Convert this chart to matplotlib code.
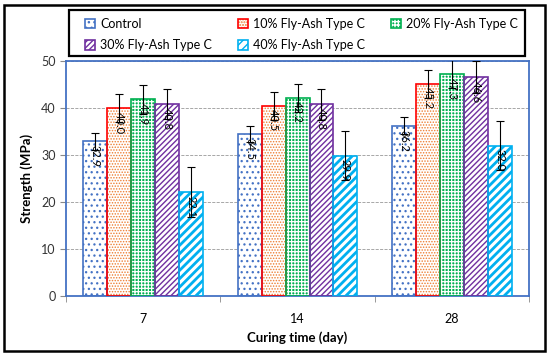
import numpy as np
import matplotlib
matplotlib.use('Agg')
import matplotlib.pyplot as plt
from matplotlib.patches import Rectangle

plt.rcParams['font.family'] = ['Lato', 'DejaVu Sans']

days = ['7', '14', '28']
series = ['Control', '10% Fly-Ash Type C', '20% Fly-Ash Type C',
          '30% Fly-Ash Type C', '40% Fly-Ash Type C']
control = [32.9, 34.5, 36.2]
fa10 = [40.0, 40.5, 45.2]
fa20 = [41.9, 42.2, 47.3]
fa30 = [40.8, 40.8, 46.6]
fa40 = [22.1, 29.9, 32.0]
err_control = [1.8, 1.7, 1.8]
err_fa10 = [3.0, 3.0, 3.0]
err_fa20 = [3.1, 3.0, 3.0]
err_fa30 = [3.2, 3.3, 3.4]
err_fa40 = [5.3, 5.3, 5.2]
labels = [['32.9', '34.5', '36.2'], ['40.0', '40.5', '45.2'],
          ['41.9', '42.2', '47.3'], ['40.8', '40.8', '46.6'],
          ['22.1', '29.9', '32.0']]

values = [control, fa10, fa20, fa30, fa40]
errors = [err_control, err_fa10, err_fa20, err_fa30, err_fa40]

# (face, hatch colour, hatch, outline, hatch lw)
styles = [
    ('white', '#4472C4', '...', '#4472C4', 0.9),
    ('white', '#ED7D31', '......', '#FF0000', 0.7),
    ('#00B050', 'white', '+++++', '#00B050', 0.9),
    ('white', '#7030A0', '//////', '#7030A0', 1.0),
    ('white', '#00B0F0', '////', '#00B0F0', 2.0),
]

fig = plt.figure(figsize=(5.5, 3.55), dpi=100)
ax = fig.add_axes([0.12, 0.166, 0.842, 0.662])

x = np.arange(len(days))
w = 0.155
handles = []
for i, (vals, errs) in enumerate(zip(values, errors)):
    face, hc, hatch, edge, hlw = styles[i]
    pos = x + (i - 2) * w
    b1 = ax.bar(pos, vals, w, color=face, edgecolor=hc, hatch=hatch, linewidth=0, zorder=2)
    for p in b1:
        if hasattr(p, 'set_hatch_linewidth'):
            p.set_hatch_linewidth(hlw)
    b2 = ax.bar(pos, vals, w, fill=False, edgecolor=edge, linewidth=1.2, zorder=3)
    ax.errorbar(pos, vals, yerr=errs, fmt='none', ecolor='black', elinewidth=0.8,
                capsize=3, capthick=0.8, zorder=4)
    for xx, v, t in zip(pos, vals, labels[i]):
        ax.text(xx, v - 0.8, t, rotation=-90, ha='center', va='top',
                fontsize=8, color='black', zorder=5)
    handles.append((b1[0], b2[0]))

ax.set_ylim(0, 50)
ax.set_xlim(-0.5, 2.5)
ax.set_yticks(range(0, 51, 10))
ax.set_xticks(x)
ax.set_xticklabels(days)
ax.set_xticks([-0.5, 0.5, 1.5, 2.5], minor=True)
ax.tick_params(axis='x', which='major', length=0, pad=12, labelsize=9)
ax.tick_params(axis='x', which='minor', length=4, color='#888888')
ax.tick_params(axis='y', length=4, color='#888888', labelsize=9, labelcolor='#333333')
ax.grid(axis='y', linestyle='--', color='#999999', linewidth=0.6, zorder=0)
ax.set_axisbelow(True)
for s in ax.spines.values():
    s.set_color('#4472C4')
    s.set_linewidth(1.3)

ax.set_ylabel('Strength (MPa)', fontsize=9.5, fontweight='bold', labelpad=6)
ax.set_xlabel('Curing time (day)', fontsize=9.5, fontweight='bold', labelpad=5)

order = [0, 3, 1, 4, 2]
leg = fig.legend([handles[k] for k in order], [series[k] for k in order],
                 loc='upper left', bbox_to_anchor=(0.148, 0.84, 0.80, 0.12),
                 mode='expand', ncol=3, fontsize=9, frameon=False,
                 handlelength=0.8, handleheight=0.8, handletextpad=0.4,
                 borderaxespad=0, labelspacing=0.75, borderpad=0.3)

fig.patches.append(Rectangle((69 / 550, 1 - 56 / 355), 456 / 550, 46 / 355,
                             transform=fig.transFigure, fill=False,
                             edgecolor='black', linewidth=1.6))
fig.patches.append(Rectangle((0.008, 0.012), 0.982, 0.974, transform=fig.transFigure,
                             fill=False, edgecolor='black', linewidth=1.8))

fig.savefig('out.png', dpi=100)
